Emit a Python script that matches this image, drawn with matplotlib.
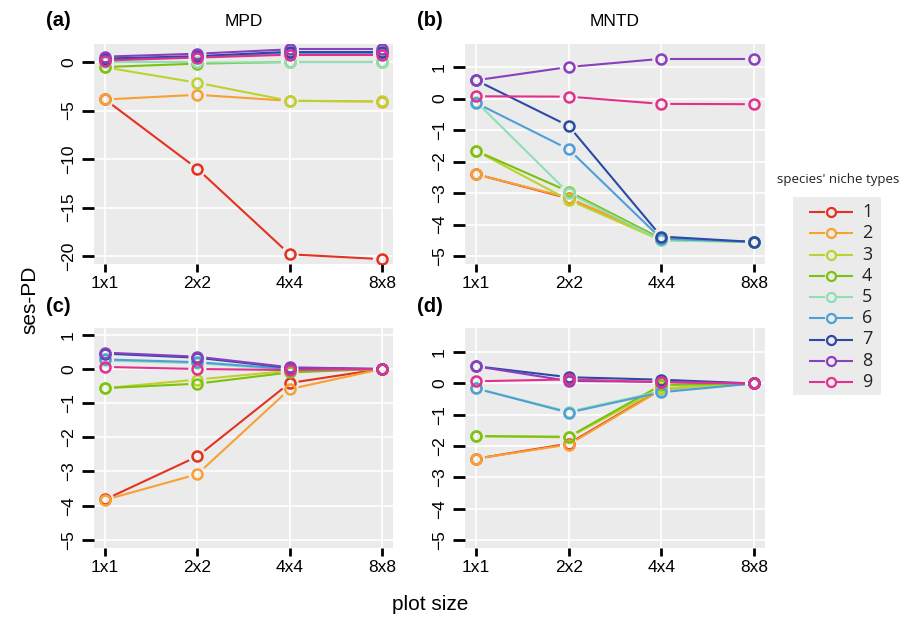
import matplotlib
matplotlib.use('Agg')
import matplotlib.pyplot as plt
import numpy as np

plt.rcParams['font.family'] = ['Liberation Sans', 'DejaVu Sans']

# ---------------- data ----------------
plot_sizes = ['1x1', '2x2', '4x4', '8x8']
niche_types = ['1', '2', '3', '4', '5', '6', '7', '8', '9']
type_colors = ['#e3321f', '#f8a031', '#bdd22e', '#7cc110', '#8de0b4',
               '#4f9fd6', '#2a4aa6', '#8b3fbf', '#e3308d']

# (a) MPD
mpd_a = [
    [-3.86, -11.0, -19.8, -20.3],
    [-3.86, -3.38, -4.0, -4.08],
    [-0.55, -2.14, -4.0, -4.05],
    [-0.52, -0.17, 0.0, 0.0],
    [-0.05, -0.05, -0.03, -0.03],
    [0.25, 0.5, 0.95, 0.95],
    [0.35, 0.6, 1.05, 1.05],
    [0.55, 0.85, 1.3, 1.3],
    [0.15, 0.45, 0.75, 0.75],
]
# (b) MNTD
mntd_b = [
    [-2.4, -3.17, -4.45, -4.55],
    [-2.4, -3.15, -4.45, -4.55],
    [-1.66, -3.22, -4.5, -4.55],
    [-1.66, -2.95, -4.45, -4.55],
    [-0.1, -3.0, -4.5, -4.55],
    [-0.14, -1.61, -4.45, -4.55],
    [0.58, -0.87, -4.38, -4.55],
    [0.58, 1.0, 1.26, 1.26],
    [0.07, 0.06, -0.17, -0.18],
]
# (c)
mpd_c = [
    [-3.82, -2.56, -0.41, 0.0],
    [-3.83, -3.08, -0.59, 0.0],
    [-0.56, -0.31, -0.05, 0.0],
    [-0.56, -0.43, -0.1, 0.0],
    [0.25, 0.17, -0.02, 0.0],
    [0.28, 0.2, 0.0, 0.0],
    [0.45, 0.33, 0.03, 0.0],
    [0.48, 0.36, 0.05, 0.0],
    [0.06, 0.0, -0.03, 0.0],
]
# (d)
mntd_d = [
    [-2.4, -1.92, -0.18, 0.0],
    [-2.4, -1.95, -0.2, 0.0],
    [-1.68, -1.72, -0.15, 0.0],
    [-1.68, -1.70, -0.05, 0.0],
    [-0.16, -0.9, -0.25, 0.0],
    [-0.16, -0.93, -0.28, 0.0],
    [0.55, 0.2, 0.12, 0.0],
    [0.55, 0.08, 0.05, 0.0],
    [0.07, 0.13, 0.04, 0.0],
]

yticks_a = [0, -5, -10, -15, -20]
yticks_rest = [1, 0, -1, -2, -3, -4, -5]

BG = '#ebebeb'
W, H = 911, 617
fig = plt.figure(figsize=(W / 100, H / 100), dpi=100)


def px_axes(x0, y0, x1, y1):
    return fig.add_axes([x0 / W, 1 - y1 / H, (x1 - x0) / W, (y1 - y0) / H])


def gapped(ax, xs, ys, color, gap=9.0):
    pts = ax.transData.transform(np.column_stack([xs, ys]))
    inv = ax.transData.inverted()
    for p0, p1 in zip(pts[:-1], pts[1:]):
        d = p1 - p0
        L = np.hypot(d[0], d[1])
        if L <= 2 * gap:
            continue
        u = d / L
        a = inv.transform(p0 + u * gap)
        b = inv.transform(p1 - u * gap)
        ax.plot([a[0], b[0]], [a[1], b[1]], color=color, lw=1.5,
                solid_capstyle='butt', zorder=3)
    ax.plot(xs, ys, 'o', ms=7.2, mfc='none', mec=color, mew=1.8, zorder=4)


def fmt(t):
    return str(t).replace('-', '\u2212')


def panel(box, data, ylim, yticks):
    ax = px_axes(*box)
    ax.set_facecolor(BG)
    ax.set_xlim(0.88, 4.12)
    ax.set_ylim(*ylim)
    for s in ax.spines.values():
        s.set_visible(False)
    xs = np.arange(1, len(plot_sizes) + 1)
    ax.set_xticks(xs)
    ax.set_xticklabels(plot_sizes)
    ax.set_yticks(yticks)
    ax.set_yticklabels([fmt(t) for t in yticks])
    ax.grid(True, color='white', lw=1.2)
    ax.set_axisbelow(True)
    ax.tick_params(axis='y', length=8.5, width=2, direction='out', pad=4.5,
                   labelsize=12.5, color='black')
    ax.tick_params(axis='x', length=5.5, width=2, direction='out', pad=3,
                   labelsize=12.5, color='black')
    for lab in ax.get_yticklabels():
        lab.set_rotation(90)
        lab.set_va('center')
    for vals, col in zip(data, type_colors):
        gapped(ax, xs, vals, col)
    return ax


ax_a = panel((94, 44, 393, 264), mpd_a, (-20.8, 1.85), yticks_a)
ax_b = panel((465, 44, 765, 264), mntd_b, (-5.25, 1.73), yticks_rest)
ax_c = panel((94, 328, 393, 548), mpd_c, (-5.24, 1.2), yticks_rest)
ax_d = panel((465, 328, 765, 548), mntd_d, (-5.25, 1.77), yticks_rest)

# panel letters and titles
for lbl, (x, y) in zip(['(a)', '(b)', '(c)', '(d)'],
                       [(58, 20), (430, 20), (58, 306), (430, 306)]):
    fig.text(x / W, 1 - y / H, lbl, fontsize=14.5, fontweight='bold',
             ha='center', va='center')
fig.text(243.5 / W, 1 - 22 / H, 'MPD', fontsize=12.5, ha='center', va='center')
fig.text(615 / W, 1 - 22 / H, 'MNTD', fontsize=12.5, ha='center', va='center')

fig.text(30 / W, 1 - 300 / H, 'ses-PD', fontsize=15, rotation=90,
         ha='center', va='center')
fig.text(430 / W, 1 - 604 / H, 'plot size', fontsize=15,
         ha='center', va='center')

# legend
fig.text(838 / W, 1 - 179 / H, "species' niche types", fontsize=9.5,
         family=['Open Sans', 'DejaVu Sans'], color='#222222',
         ha='center', va='center')
lx0, ly0, lx1, ly1 = 793, 197, 881, 395
lax = px_axes(lx0, ly0, lx1, ly1)
lax.set_facecolor(BG)
lax.set_xlim(0, lx1 - lx0)
row = 21.25
lax.set_ylim(8 + 13 / row, -15 / row)
lax.set_xticks([])
lax.set_yticks([])
for s in lax.spines.values():
    s.set_visible(False)
for i, (name, col) in enumerate(zip(niche_types, type_colors)):
    lax.plot([16, 32], [i, i], color=col, lw=1.5, solid_capstyle='butt')
    lax.plot([44, 60], [i, i], color=col, lw=1.5, solid_capstyle='butt')
    lax.plot([38], [i], 'o', ms=6.5, mfc='none', mec=col, mew=1.6)
    lax.text(69, i, name, fontsize=13, va='center', ha='left',
             family=['Open Sans', 'DejaVu Sans'], color='#222222')

fig.savefig('out.png', dpi=100)
